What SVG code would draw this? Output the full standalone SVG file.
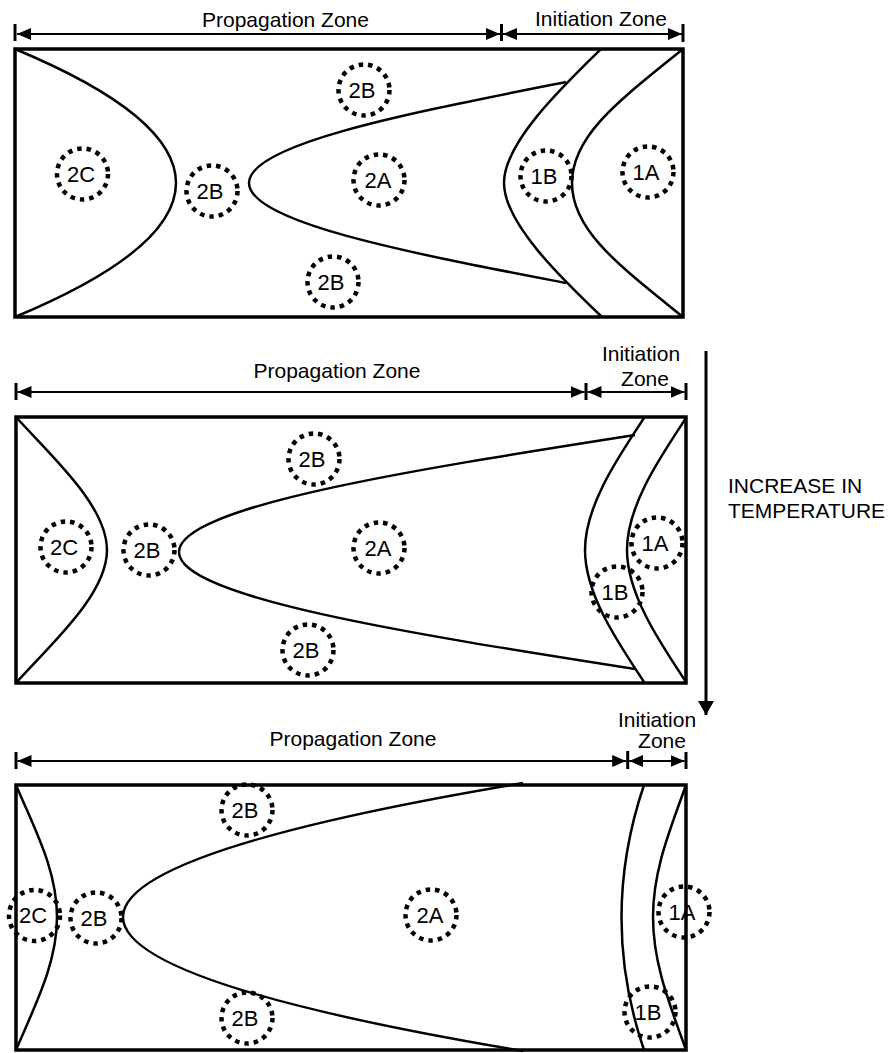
<svg xmlns="http://www.w3.org/2000/svg" width="896" height="1053" viewBox="0 0 896 1053">
<style>
.frame{fill:none;stroke:#000;stroke-width:3.5}
.curve{fill:none;stroke:#000;stroke-width:2.5}
.dim{fill:none;stroke:#000;stroke-width:2}
.tick{stroke:#000;stroke-width:3}
.zone{fill:none;stroke:#000;stroke-width:4.5;stroke-dasharray:4.5 5}
text{font-family:"Liberation Sans",Arial,sans-serif;font-size:21px;fill:#000}
.lbl{text-anchor:middle}
.zl{font-size:22px}
</style>
<defs>
<marker id="ah" markerUnits="userSpaceOnUse" markerWidth="14" markerHeight="12" refX="14" refY="6" orient="auto-start-reverse" viewBox="0 0 14 12"><path d="M0,0 L14,6 L0,12 z" fill="#000"/></marker>
<marker id="ahBig" markerUnits="userSpaceOnUse" markerWidth="16" markerHeight="16" refX="14" refY="8" orient="auto" viewBox="0 0 16 16"><path d="M0,0 L14,8 L0,16 z" fill="#000"/></marker>
</defs>
<rect width="896" height="1053" fill="#fff"/>

<!-- Panel 1 -->
<g id="panel1">
<rect class="frame" x="15" y="49" width="668" height="268"/>
<path class="curve" d="M15,49 Q337,183 15,317"/>
<path class="curve" d="M566,82 C416,112 249,143 249,183 C249,223 416,254 566,283"/>
<path class="curve" d="M601,49 C561,88 504,143 504,183 C504,223 561,278 602,317"/>
<path class="curve" d="M683,49 C620,100 572,135 572,183 C572,231 620,266 683,317"/>
</g>
<g id="p1-2B-top"><circle class="zone" cx="364" cy="90" r="25.5"/><text class="lbl zl" x="362" y="98">2B</text></g>
<g id="p1-2C"><circle class="zone" cx="82.5" cy="174" r="25.5"/><text class="lbl zl" x="81" y="182">2C</text></g>
<g id="p1-2B-mid"><circle class="zone" cx="212" cy="191" r="25.5"/><text class="lbl zl" x="210" y="199">2B</text></g>
<g id="p1-2A"><circle class="zone" cx="379" cy="180" r="25.5"/><text class="lbl zl" x="378" y="188">2A</text></g>
<g id="p1-2B-bot"><circle class="zone" cx="333" cy="282" r="25.5"/><text class="lbl zl" x="331" y="290">2B</text></g>
<g id="p1-1B"><circle class="zone" cx="546" cy="176" r="25.5"/><text class="lbl zl" x="544" y="184">1B</text></g>
<g id="p1-1A"><circle class="zone" cx="648" cy="172" r="25.5"/><text class="lbl zl" x="646" y="180">1A</text></g>
<text class="lbl" x="285.5" y="27">Propagation Zone</text>
<text class="lbl" x="601" y="26">Initiation Zone</text>

<!-- Panel 2 -->
<g id="panel2">
<rect class="frame" x="16" y="417" width="670" height="266"/>
<path class="curve" d="M16,417 C50,455 107,505 107,550 C107,595 50,645 16,683"/>
<path class="curve" d="M635,435 C405,471 179,507 179,552 C179,597 405,633 635,669"/>
<path class="curve" d="M644,418 C619,456 585,505 585,550 C585,595 619,644 644,682"/>
<path class="curve" d="M686,418 C661,456 627,505 627,550 C627,595 661,644 686,682"/>
</g>
<g id="p2-2B-top"><circle class="zone" cx="314" cy="459" r="25.5"/><text class="lbl zl" x="312" y="467">2B</text></g>
<g id="p2-2C"><circle class="zone" cx="66" cy="547" r="25.5"/><text class="lbl zl" x="64" y="555">2C</text></g>
<g id="p2-2B-mid"><circle class="zone" cx="149" cy="550" r="25.5"/><text class="lbl zl" x="147" y="558">2B</text></g>
<g id="p2-2A"><circle class="zone" cx="379" cy="548" r="25.5"/><text class="lbl zl" x="378" y="556">2A</text></g>
<g id="p2-2B-bot"><circle class="zone" cx="308" cy="650" r="25.5"/><text class="lbl zl" x="306" y="658">2B</text></g>
<g id="p2-1A"><circle class="zone" cx="657" cy="543" r="25.5"/><text class="lbl zl" x="655" y="551">1A</text></g>
<g id="p2-1B"><circle class="zone" cx="617" cy="592" r="25.5"/><text class="lbl zl" x="615" y="600">1B</text></g>
<text class="lbl" x="337" y="378">Propagation Zone</text>
<text class="lbl" x="641" y="361">Initiation</text>
<text class="lbl" x="645" y="386">Zone</text>

<!-- Panel 3 -->
<g id="panel3">
<rect class="frame" x="16" y="785" width="670" height="265"/>
<path class="curve" d="M16,785 C35,830 57,870 57,917 C57,964 35,1005 16,1050"/>
<path class="curve" d="M523,783 Q-277,917 523,1051"/>
<path class="curve" d="M644,785 Q599,918 644,1050"/>
<path class="curve" d="M686,785 C670,830 653,870 653,917 C653,964 670,1005 686,1050"/>
</g>
<g id="p3-2B-top"><circle class="zone" cx="247" cy="810" r="25.5"/><text class="lbl zl" x="245" y="818">2B</text></g>
<g id="p3-2C"><circle class="zone" cx="34.5" cy="915.5" r="25.5"/><text class="lbl zl" x="33" y="923">2C</text></g>
<g id="p3-2B-mid"><circle class="zone" cx="96" cy="918" r="25.5"/><text class="lbl zl" x="94" y="926">2B</text></g>
<g id="p3-2A"><circle class="zone" cx="431" cy="915" r="25.5"/><text class="lbl zl" x="430" y="923">2A</text></g>
<g id="p3-2B-bot"><circle class="zone" cx="247" cy="1018" r="25.5"/><text class="lbl zl" x="245" y="1026">2B</text></g>
<g id="p3-1A"><circle class="zone" cx="684" cy="912" r="25.5"/><text class="lbl zl" x="682" y="920">1A</text></g>
<g id="p3-1B"><circle class="zone" cx="650" cy="1012" r="25.5"/><text class="lbl zl" x="648" y="1020">1B</text></g>
<text class="lbl" x="353" y="746">Propagation Zone</text>
<text class="lbl" x="657" y="727">Initiation</text>
<text class="lbl" x="662" y="748">Zone</text>

<text x="728" y="493">INCREASE IN</text>
<text x="728" y="518">TEMPERATURE</text>

<g id="connectors">
<line class="tick" x1="15" y1="24" x2="15" y2="41"/>
<line class="tick" x1="501.5" y1="24" x2="501.5" y2="41"/>
<line class="tick" x1="683" y1="24" x2="683" y2="42"/>
<line class="dim" x1="17" y1="34" x2="500" y2="34" marker-start="url(#ah)" marker-end="url(#ah)"/>
<line class="dim" x1="503" y1="34" x2="682" y2="34" marker-start="url(#ah)" marker-end="url(#ah)"/>

<line class="tick" x1="16" y1="383" x2="16" y2="400"/>
<line class="tick" x1="586" y1="383" x2="586" y2="400"/>
<line class="tick" x1="686" y1="383" x2="686" y2="400"/>
<line class="dim" x1="17.5" y1="392" x2="584.5" y2="392" marker-start="url(#ah)" marker-end="url(#ah)"/>
<line class="dim" x1="587.5" y1="392" x2="684.5" y2="392" marker-start="url(#ah)" marker-end="url(#ah)"/>

<line class="tick" x1="16" y1="752" x2="16" y2="769"/>
<line class="tick" x1="627.7" y1="751" x2="627.7" y2="769"/>
<line class="tick" x1="686" y1="752" x2="686" y2="769"/>
<line class="dim" x1="17.5" y1="761" x2="626.2" y2="761" marker-start="url(#ah)" marker-end="url(#ah)"/>
<line class="dim" x1="629.2" y1="761" x2="684.5" y2="761" marker-start="url(#ah)" marker-end="url(#ah)"/>

<line x1="706" y1="351" x2="706" y2="715" stroke="#000" stroke-width="3" marker-end="url(#ahBig)"/>
</g>
</svg>
